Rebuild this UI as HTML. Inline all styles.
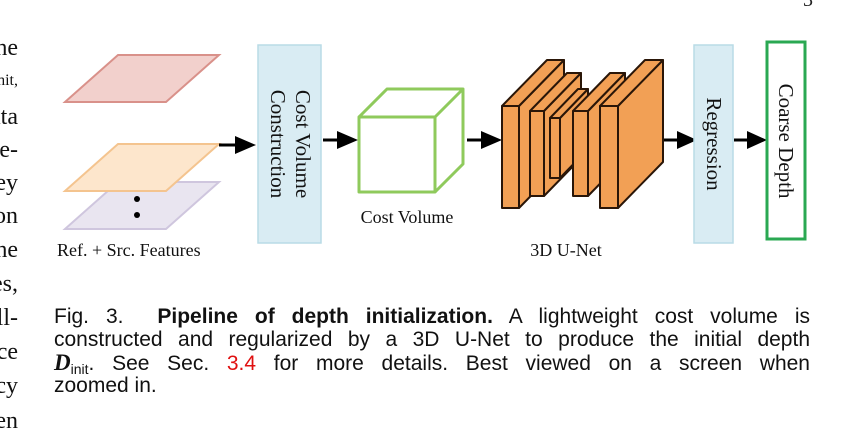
<!DOCTYPE html>
<html><head><meta charset="utf-8"><style>
html,body{margin:0;padding:0;background:#fff;}
body{width:864px;height:443px;position:relative;overflow:hidden;}
.lc{position:absolute;left:0;top:0;width:18px;height:443px;overflow:hidden;}
.lc div{position:absolute;right:0;font:24px "Liberation Serif",serif;white-space:nowrap;color:#111;}
.cap{position:absolute;left:54px;width:756px;font:21px "Liberation Sans",sans-serif;color:#111;}
.cap div{position:absolute;left:0;width:756px;text-align:justify;text-align-last:justify;white-space:nowrap;line-height:24px;}
</style></head><body>
<div class="lc">
<div style="top:35px">the</div>
<div style="top:72px;font-size:16px">init,</div>
<div style="top:104px">data</div>
<div style="top:137px">pre-</div>
<div style="top:170px">ey</div>
<div style="top:203px">on</div>
<div style="top:237px">the</div>
<div style="top:271px">es,</div>
<div style="top:305px">all-</div>
<div style="top:339px">nce</div>
<div style="top:373px">ncy</div>
<div style="top:408px">en</div>
</div>
<svg width="864" height="443" style="position:absolute;left:0;top:0">
<text x="803" y="6" font-family="Liberation Serif" font-size="20" fill="#222">3</text>
<polygon points="65,102 118,55 219,55 166,102" fill="#f2d0cc" stroke="#d9918a" stroke-width="2"/>
<polygon points="65,229 118,182 219,182 166,229" fill="#e9e5f0" stroke="#cfc6de" stroke-width="2"/>
<polygon points="65,191 118,144 219,144 166,191" fill="#fde6cc" stroke="#f4c48f" stroke-width="2"/>
<circle cx="137" cy="199" r="3" fill="#000"/><circle cx="137" cy="215" r="3" fill="#000"/>
<g stroke="#000" stroke-width="3">
<line x1="219" y1="145" x2="238" y2="145"/><line x1="323" y1="140" x2="340" y2="140"/>
<line x1="467" y1="140" x2="484" y2="140"/><line x1="664" y1="140" x2="680" y2="140"/>
<line x1="734" y1="140" x2="750" y2="140"/></g>
<g fill="#000">
<path d="M235,136 L256,145 L235,154 Z"/><path d="M337,131 L358,140 L337,149 Z"/>
<path d="M481,131 L502,140 L481,149 Z"/><path d="M677,131 L697,140 L677,149 Z"/>
<path d="M747,131 L767,140 L747,149 Z"/></g>
<text x="57" y="256" font-family="Liberation Serif" font-size="18" fill="#111">Ref. + Src. Features</text>
<rect x="258" y="45" width="63" height="198" fill="#d9ecf3" stroke="#b9dbe6" stroke-width="1.5"/>
<g font-family="Liberation Serif" font-size="21" fill="#111">
<text transform="translate(296,144) rotate(90)" text-anchor="middle">Cost Volume</text>
<text transform="translate(271,144) rotate(90)" text-anchor="middle">Construction</text>
</g>
<g fill="none" stroke="#8fca5c" stroke-width="3" stroke-linejoin="round">
<rect x="359" y="117" width="76" height="75"/>
<polyline points="359,117 387,89 463,89 435,117"/>
<polyline points="463,89 463,164 435,192"/>
</g>
<text x="407" y="223" text-anchor="middle" font-family="Liberation Serif" font-size="18" fill="#111">Cost Volume</text>
<g fill="#f2a055" stroke="#2a1608" stroke-width="2" stroke-linejoin="round">
<polygon points="519,106 564,60 564,162 519,208"/><polygon points="502,106 547,60 564,60 519,106"/><rect x="502" y="106" width="17" height="102"/>
<polygon points="544,111 581,73 581,158 544,196"/><polygon points="530,111 567,73 581,73 544,111"/><rect x="530" y="111" width="14" height="85"/>
<polygon points="560,118 588,89 588,149 560,178"/><polygon points="550,118 578,89 588,89 560,118"/><rect x="550" y="118" width="10" height="60"/>
<polygon points="588,111 625,73 625,158 588,196"/><polygon points="573,111 610,73 625,73 588,111"/><rect x="573" y="111" width="15" height="85"/>
<polygon points="618,106 663,60 663,162 618,208"/><polygon points="600,106 645,60 663,60 618,106"/><rect x="600" y="106" width="18" height="102"/>
</g>
<text x="566" y="256" text-anchor="middle" font-family="Liberation Serif" font-size="18" fill="#111">3D U-Net</text>
<rect x="694" y="45" width="39" height="198" fill="#d9ecf3" stroke="#b9dbe6" stroke-width="1.5"/>
<text transform="translate(707,144) rotate(90)" text-anchor="middle" font-family="Liberation Serif" font-size="21" fill="#111">Regression</text>
<rect x="767" y="42" width="38" height="197" fill="#fff" stroke="#2aa852" stroke-width="3"/>
<text transform="translate(779,141) rotate(90)" text-anchor="middle" font-family="Liberation Serif" font-size="21" fill="#111">Coarse Depth</text>
</svg>
<div class="cap">
<div style="top:305px">Fig. 3.&nbsp; <b>Pipeline of depth initialization.</b> A lightweight cost volume is</div>
<div style="top:328px">constructed and regularized by a 3D U-Net to produce the initial depth</div>
<div style="top:351px"><i style="font-family:'Liberation Serif',serif;font-weight:bold;font-size:23px">D</i><span style="font-size:14px;position:relative;top:4px">init</span>. See Sec. <span style="color:#e01010">3.4</span> for more details. Best viewed on a screen when</div>
<div style="top:374px;text-align-last:left">zoomed in.</div>
</div>
</body></html>
